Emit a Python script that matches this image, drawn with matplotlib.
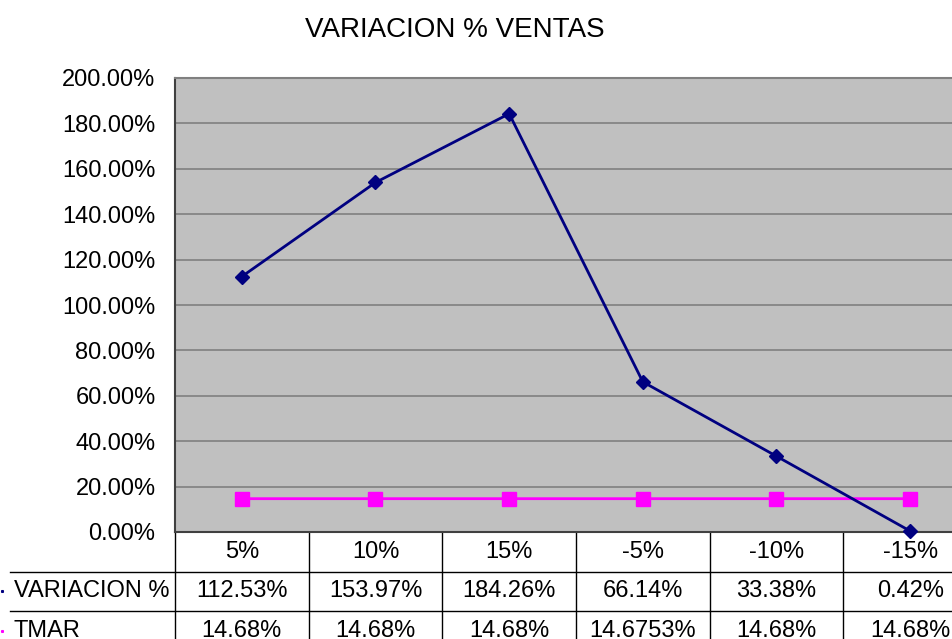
import matplotlib.pyplot as plt
import numpy as np

plt.rcParams['font.family'] = ['Liberation Sans', 'DejaVu Sans']

categories = ["5%", "10%", "15%", "-5%", "-10%", "-15%"]
variacion = [112.53, 153.97, 184.26, 66.14, 33.38, 0.42]
tmar = [14.68, 14.68, 14.68, 14.6753, 14.68, 14.68]
variacion_txt = ["112.53%", "153.97%", "184.26%", "66.14%", "33.38%", "0.42%"]
tmar_txt = ["14.68%", "14.68%", "14.68%", "14.6753%", "14.68%", "14.68%"]
row_names = ["VARIACION %", "TMAR"]

W, H = 952, 639
fig = plt.figure(figsize=(W / 100, H / 100), dpi=100)
fig.patch.set_facecolor('white')

# plot area runs past the right edge like the original screenshot
ax = fig.add_axes([175 / W, 107 / H, 802 / W, 454 / H])
ax.set_facecolor('#C0C0C0')

x = np.arange(len(categories)) + 0.5
ax.plot(x, tmar, color='#FF00FF', lw=2, marker='s', ms=10,
        markerfacecolor='#FF00FF', markeredgecolor='#FF00FF', zorder=3)
ax.plot(x, variacion, color='#000080', lw=2, marker='D', ms=7,
        markerfacecolor='#000080', markeredgecolor='#000080', zorder=4,
        clip_on=False)

fs = 17
ax.set_xlim(0, len(categories))
ax.set_ylim(0, 200)
ax.set_yticks(np.arange(0, 201, 20))
ax.set_yticklabels(["%.2f%%" % v for v in np.arange(0, 201, 20)], fontsize=fs)
ax.tick_params(axis='y', length=0, pad=14)
ax.set_xticks([])
ax.grid(axis='y', color='#808080', lw=1.2)
ax.set_axisbelow(True)
for s in ['top', 'right']:
    ax.spines[s].set_color('#808080')
    ax.spines[s].set_linewidth(1.5)
ax.spines['left'].set_color('#404040')
ax.spines['left'].set_linewidth(1.5)
ax.spines['bottom'].set_color('#404040')
ax.spines['bottom'].set_linewidth(1.5)

# data table below the plot
trans = ax.get_xaxis_transform()
row_h = 39.5 / 454
left_x = (10 - 175) / 133.6
for i in range(len(categories) + 1):
    ax.plot([i, i], [0, -3 * row_h], color='black', lw=1, transform=trans, clip_on=False)
for r in (1, 2):
    ax.plot([left_x, len(categories)], [-r * row_h, -r * row_h], color='black', lw=1,
            transform=trans, clip_on=False)

for i, c in enumerate(categories):
    ax.text(x[i], -0.5 * row_h, c, transform=trans, ha='center', va='center', fontsize=fs)
    ax.text(x[i], -1.5 * row_h, variacion_txt[i], transform=trans, ha='center', va='center', fontsize=fs)
    ax.text(x[i], -2.5 * row_h, tmar_txt[i], transform=trans, ha='center', va='center', fontsize=fs)

marker_colors = ['#000080', '#FF00FF']
for r, name in enumerate(row_names):
    ax.text(left_x + 0.03, -(r + 1.5) * row_h, name, transform=trans, ha='left', va='center',
            fontsize=fs)
    ax.plot([left_x - 0.06], [-(r + 1.5) * row_h], marker='s', ms=1.2, color=marker_colors[r],
            transform=trans, clip_on=False)

fig.text(455 / W, 1 - 30 / H, "VARIACION % VENTAS", ha='center', va='center', fontsize=20)

fig.savefig('out.png', dpi=100)
